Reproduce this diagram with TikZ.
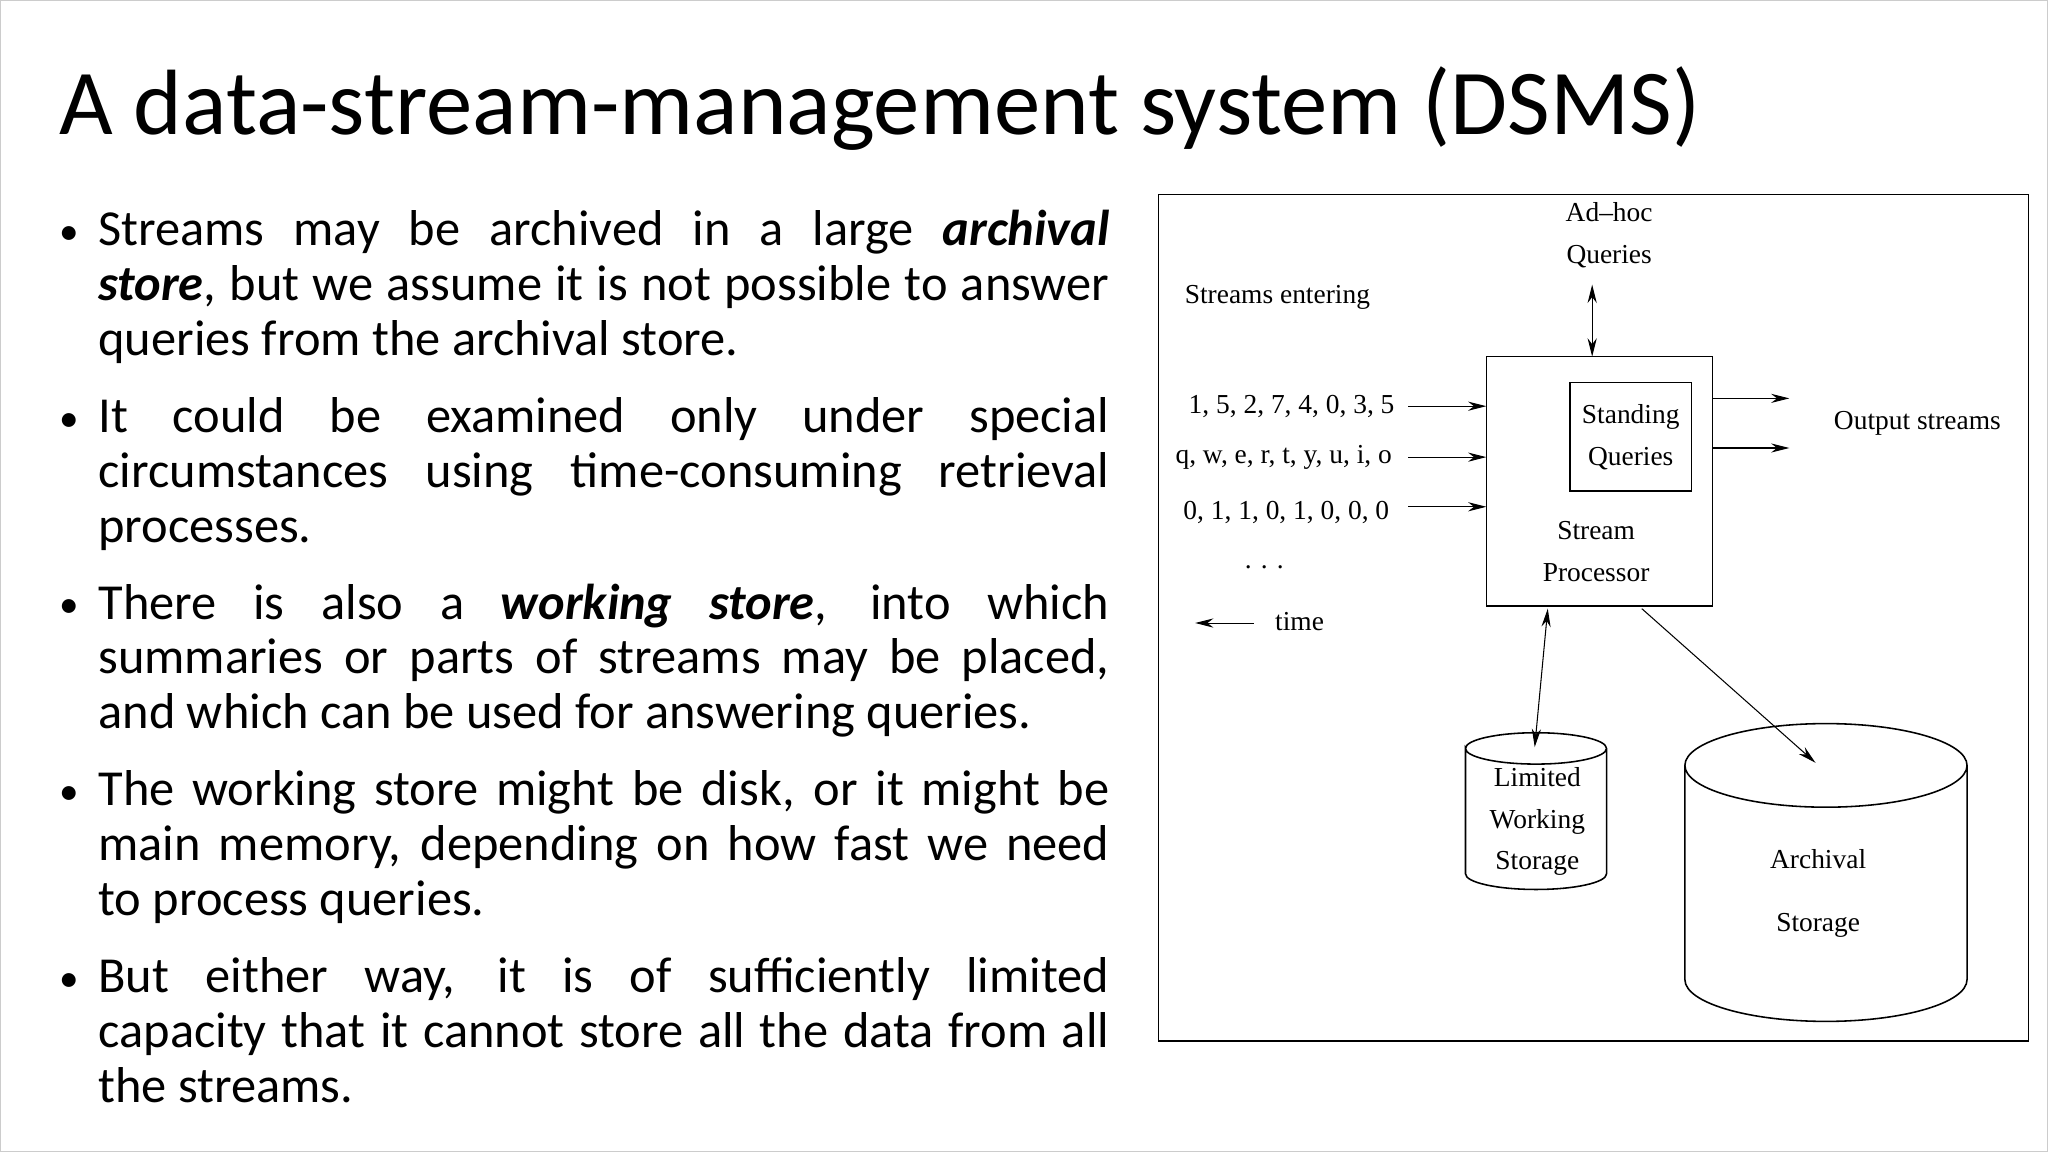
\documentclass[tikz,border=0pt]{standalone}
\usepackage{fontspec}
\setmainfont{Carlito}
\newfontfamily\dfont{Liberation Serif}
\usetikzlibrary{arrows.meta,shapes.geometric}
\newcommand{\jl}[1]{\makebox[387pt][s]{#1}}
\newcommand{\bi}[1]{\textbf{\textit{#1}}}
\begin{document}
\begin{tikzpicture}[x=0.5pt,y=-0.5pt,
  tip/.style={-{Stealth[length=7pt,width=3.5pt]}},
  dtip/.style={{Stealth[length=7pt,width=3.5pt]}-{Stealth[length=7pt,width=3.5pt]}},
  lbl/.style={font=\dfont\fontsize{10.5}{16}\selectfont,inner sep=0pt,align=center},
  bul/.style={anchor=base west,inner sep=0pt,font=\fontsize{19.3}{21.25}\selectfont},
  dot/.style={anchor=base west,inner sep=0pt,font=\fontsize{15}{20}\selectfont}]
\useasboundingbox (0,0) rectangle (1568,882);
\draw[gray!40,line width=0.6pt] (0.5,0.5) rectangle (1567.5,881.5);
\node[anchor=base west,inner sep=0pt,font=\fontsize{35.5}{40}\selectfont] (title) at (45,103) {A data-stream-management system (DSMS)};
% bullets
\node[dot] (d1) at (45,187) {•};
\node[bul] (l11) at (75,188) {\jl{Streams may be archived in a large \bi{archival}}};
\node[bul] (l12) at (75,230) {\jl{\bi{store}, but we assume it is not possible to answer}};
\node[bul] (l13) at (75,272) {queries from the archival store.};
\node[dot] (d2) at (45,330) {•};
\node[bul] (l21) at (75,331) {\jl{It could be examined only under special}};
\node[bul] (l22) at (75,373) {\jl{circumstances using time-consuming retrieval}};
\node[bul] (l23) at (75,415) {processes.};
\node[dot] (d3) at (45,473) {•};
\node[bul] (l31) at (75,474) {\jl{There is also a \bi{working store}, into which}};
\node[bul] (l32) at (75,516) {\jl{summaries or parts of streams may be placed,}};
\node[bul] (l33) at (75,558) {and which can be used for answering queries.};
\node[dot] (d4) at (45,616) {•};
\node[bul] (l41) at (75,617) {\jl{The working store might be disk, or it might be}};
\node[bul] (l42) at (75,659) {\jl{main memory, depending on how fast we need}};
\node[bul] (l43) at (75,701) {to process queries.};
\node[dot] (d5) at (45,759) {•};
\node[bul] (l51) at (75,760) {\jl{But either way, it is of sufficiently limited}};
\node[bul] (l52) at (75,802) {\jl{capacity that it cannot store all the data from all}};
\node[bul] (l53) at (75,844) {the streams.};
% diagram
\draw[line width=0.6pt] (887,149) rectangle (1553,797);
\node[lbl] (adhoc) at (1232,180) {Ad\textendash hoc\\Queries};
\node[lbl] (se) at (978,228) {Streams entering};
\node[draw,line width=0.6pt,minimum width=86.5pt,minimum height=95.5pt,inner sep=0pt] (sp) at (1224.5,368.5) {};
\node[draw,line width=0.6pt,minimum width=46.5pt,minimum height=41.5pt,lbl] (sq) at (1248.5,334.5) {Standing\\Queries};
\node[lbl] (spt) at (1222,422) {Stream\\Processor};
\coordinate (aq) at (1219,218);
\draw[dtip] (aq) -- (1219,273);
\node[lbl,anchor=east] (i1) at (1068,311) {1, 5, 2, 7, 4, 0, 3, 5};
\node[lbl,anchor=east] (i2) at (1066,350) {q, w, e, r, t, y, u, i, o};
\node[lbl,anchor=east] (i3) at (1064,392) {0, 1, 1, 0, 1, 0, 0, 0};
\node[lbl] (dots) at (968,434) {. . .};
\coordinate (s1) at (1078,311);\coordinate (s2) at (1078,350);\coordinate (s3) at (1078,388);
\draw[tip] (s1) -- (1138,311);
\draw[tip] (s2) -- (1138,350);
\draw[tip] (s3) -- (1138,388);
\coordinate (t1) at (960,477);\coordinate (t2) at (915,477);
\draw[tip] (t1) -- (t2);
\node[lbl] (time) at (995,476) {time};
\coordinate (o1) at (1370,305);\coordinate (o2) at (1370,343);
\draw[tip] (1311,305) -- (o1);
\draw[tip] (1311,343) -- (o2);
\node[lbl] (out) at (1468,324) {Output streams};
% limited working storage cylinder
\draw[line width=0.6pt] (1122,573) arc[start angle=180,end angle=360,x radius=54,y radius=12]
  arc[start angle=0,end angle=180,x radius=54,y radius=12] -- (1122,669)
  arc[start angle=180,end angle=0,x radius=54,y radius=12] -- (1230,573);
\coordinate (lw) at (1175,572);
\node[lbl] (lwt) at (1177,629) {Limited\\Working\\Storage};
\draw[dtip] (1185,466) -- (lw);
% archival storage cylinder
\draw[line width=0.6pt] (1290,586) arc[start angle=180,end angle=360,x radius=108,y radius=32]
  arc[start angle=0,end angle=180,x radius=108,y radius=32] -- (1290,750)
  arc[start angle=180,end angle=0,x radius=108,y radius=32] -- (1506,586);
\coordinate (ar) at (1390,584);
\node[lbl] (art) at (1392,684) {Archival\\[8pt]Storage};
\draw[tip] (1257,466) -- (ar);
\end{tikzpicture}
\end{document}
